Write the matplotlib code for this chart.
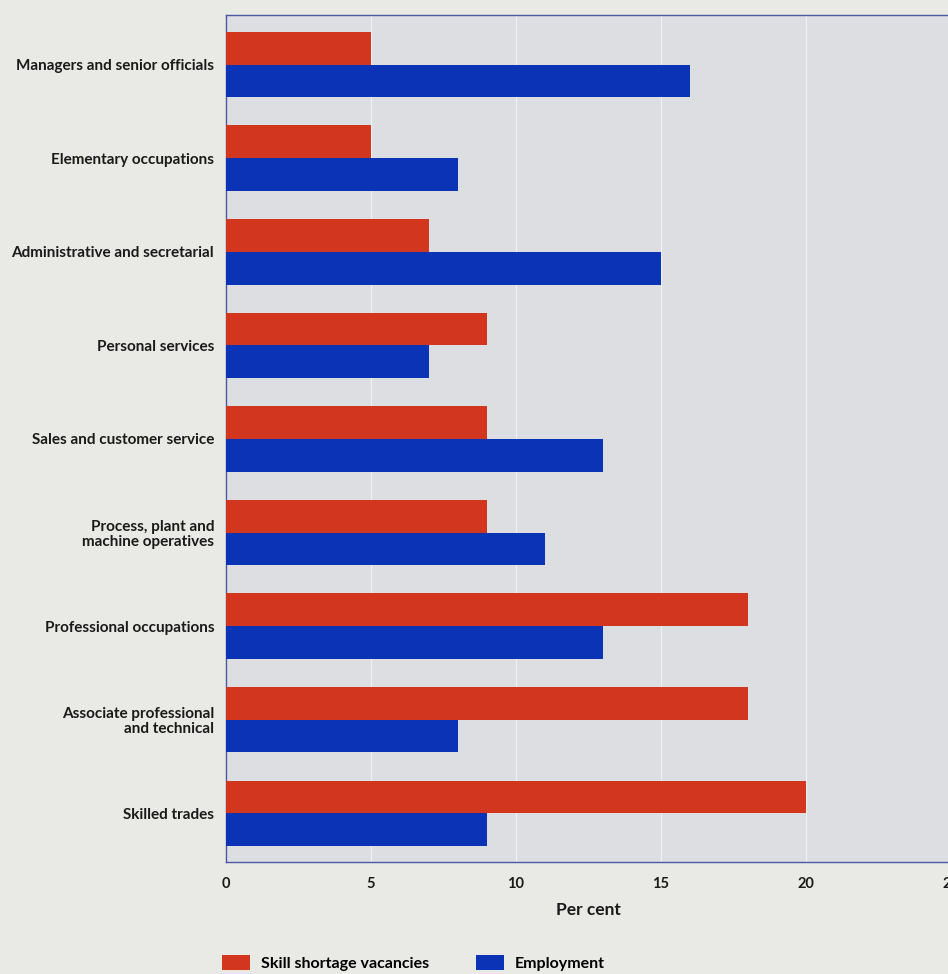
import matplotlib
matplotlib.use("Agg")
import matplotlib.pyplot as plt
from matplotlib.patches import Patch
import numpy as np

# occupations, top to bottom
categories = [
    "Managers and senior officials",
    "Elementary occupations",
    "Administrative and secretarial",
    "Personal services",
    "Sales and customer service",
    "Process, plant and\nmachine operatives",
    "Professional occupations",
    "Associate professional\nand technical",
    "Skilled trades",
]
skill_shortage = [5, 5, 7, 9, 9, 9, 18, 18, 20]
employment = [16, 8, 15, 7, 13, 11, 13, 8, 9]
x_ticks = [0, 5, 10, 15, 20, 25]

RED = "#d2361f"
BLUE = "#0b33b5"
PAPER = "#e9e9e5"
PANEL = "#dcdee2"
INK = "#1a1a1a"

plt.rcParams["font.family"] = ["Lato", "DejaVu Sans"]
plt.rcParams["font.weight"] = "bold"

fig = plt.figure(figsize=(9.48, 9.74), dpi=100, facecolor=PAPER)
# axes runs slightly past the right edge, like the cropped scan
ax = fig.add_axes([226/948, 1 - 862/974, (951-226)/948, (862-15)/974])
ax.set_facecolor(PANEL)

y = np.arange(len(categories))
h = 0.35
ax.barh(y - h/2, skill_shortage, height=h, color=RED, zorder=3)
ax.barh(y + h/2, employment, height=h, color=BLUE, zorder=3)

ax.set_xlim(0, 25)
ax.set_ylim(8.52, -0.53)
ax.set_xticks(x_ticks)
ax.set_yticks(y)
ax.set_yticklabels(categories, fontsize=11, linespacing=1.1, fontweight="bold")
ax.tick_params(axis="both", length=0, colors=INK)
ax.tick_params(axis="x", pad=11, labelsize=10.5)
ax.tick_params(axis="y", pad=8.5)
for t in ax.get_xticklabels():
    t.set_fontweight("bold")
ax.grid(axis="x", color="#eef0f2", linewidth=0.9, zorder=1)
for s in ax.spines.values():
    s.set_color("#4a58a0")
    s.set_linewidth(1.0)
ax.set_xlabel("Per cent", fontsize=12.5, labelpad=8, color=INK, fontweight="bold")

handles = [Patch(facecolor=RED, label="Skill shortage vacancies"),
           Patch(facecolor=BLUE, label="Employment")]
fig.legend(handles=handles, loc="lower left", bbox_to_anchor=(222/948, 3/974),
           ncol=2, frameon=False, fontsize=11.5, handlelength=1.75,
           handleheight=1.06, handletextpad=0.7, columnspacing=2.9,
           borderaxespad=0, borderpad=0,
           prop={"weight": "bold", "size": 11.5})

fig.savefig("out.png", dpi=100, facecolor=PAPER)
